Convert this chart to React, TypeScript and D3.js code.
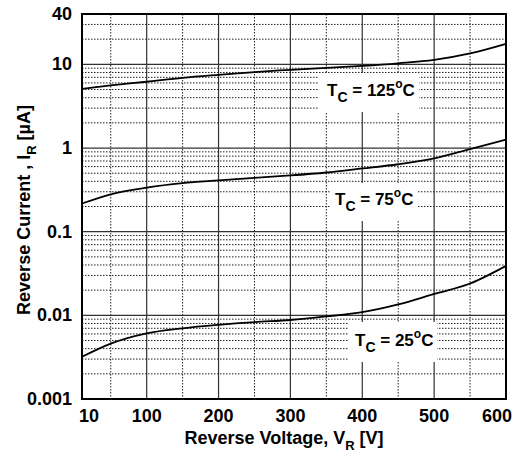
import React from "react";
import * as d3 from "d3";

const xTicks = [10, 100, 200, 300, 400, 500, 600];
const xMajorGrid = [100, 200, 300, 400, 500];
const xMinorGrid = [50, 150, 250, 350, 450, 550];
const yTicks = [0.001, 0.01, 0.1, 1, 10, 40];
const yTickLabels = ["0.001", "0.01", "0.1", "1", "10", "40"];
const yMajorGrid = [0.01, 0.1, 1, 10];

const voltage = [10, 50, 100, 150, 200, 250, 300, 350, 400, 450, 500, 550, 600];
const i125 = [5.1, 5.6, 6.2, 6.9, 7.5, 8.1, 8.6, 9.1, 9.6, 10.3, 11.3, 13.5, 17.6];
const i75 = [0.217, 0.28, 0.336, 0.38, 0.41, 0.44, 0.47, 0.51, 0.57, 0.64, 0.75, 0.97, 1.26];
const i25 = [0.0032, 0.0046, 0.0061, 0.007, 0.0077, 0.0083, 0.0088, 0.0097, 0.0109, 0.0135, 0.018, 0.024, 0.039];

const labels = [
  { temp: "125", x: 327, y: 96, box: [318, 73, 101, 39] },
  { temp: "75", x: 335, y: 205, box: [330, 183, 87, 38] },
  { temp: "25", x: 355, y: 346, box: [348, 322, 89, 40] },
];

const W = 528;
const H = 457;
const L = 82, R = 506, T = 14, B = 399;
const FONT = "'Liberation Sans', Arial, Helvetica, sans-serif";

export default function App() {
  const x = d3.scaleLinear().domain([10, 600]).range([L, R]);
  const y = d3.scaleLog().domain([0.001, 40]).range([B, T]);

  const yMinorGrid: number[] = [];
  for (let e = -3; e <= 1; e++) {
    for (let k = 2; k <= 9; k++) {
      const v = k * Math.pow(10, e);
      if (v < 40) yMinorGrid.push(v);
    }
  }

  const line = d3
    .line<[number, number]>()
    .x((d) => x(d[0]))
    .y((d) => y(d[1]))
    .curve(d3.curveMonotoneX);

  const series = [i125, i75, i25];

  return (
    <svg width={W} height={H} style={{ position: "absolute", left: 0, top: 0 }} fontFamily={FONT}>
      <rect x={0} y={0} width={W} height={H} fill="#fff" />
      {xMinorGrid.map((v) => (
        <line key={"xm" + v} x1={x(v)} x2={x(v)} y1={T} y2={B} stroke="#222" strokeWidth={1} strokeDasharray="1.5,1.5" />
      ))}
      {yMinorGrid.map((v) => (
        <line key={"ym" + v} x1={L} x2={R} y1={y(v)} y2={y(v)} stroke="#222" strokeWidth={1} strokeDasharray="1.5,1.5" />
      ))}
      {xMajorGrid.map((v) => (
        <line key={"xM" + v} x1={x(v)} x2={x(v)} y1={T} y2={B} stroke="#333" strokeWidth={1.2} />
      ))}
      {yMajorGrid.map((v) => (
        <line key={"yM" + v} x1={L} x2={R} y1={y(v)} y2={y(v)} stroke="#333" strokeWidth={1.2} />
      ))}
      {labels.map((l) => (
        <rect key={"b" + l.temp} x={l.box[0]} y={l.box[1]} width={l.box[2]} height={l.box[3]} fill="#fff" />
      ))}
      {series.map((s, i) => (
        <path
          key={"s" + i}
          d={line(voltage.map((v, j) => [v, s[j]] as [number, number])) || ""}
          fill="none"
          stroke="#000"
          strokeWidth={1.8}
        />
      ))}
      <rect x={L} y={T} width={R - L} height={B - T} fill="none" stroke="#000" strokeWidth={2} />
      {labels.map((l) => (
        <text key={"t" + l.temp} x={l.x} y={l.y} fontSize={17} fontWeight="bold" fill="#000">
          T<tspan fontSize={14} dy={6}>C</tspan>
          <tspan dy={-6}> = {l.temp}</tspan>
          <tspan fontSize={12} dy={-8}>o</tspan>
          <tspan dy={8}>C</tspan>
        </text>
      ))}
      {yTicks.map((v, i) => (
        <text key={"yt" + v} x={L - 10} y={y(v) + 6} fontSize={18} fontWeight="bold" textAnchor="end">
          {yTickLabels[i]}
        </text>
      ))}
      {xTicks.map((v) => (
        <text
          key={"xt" + v}
          x={v === 10 ? x(v) + 7 : v === 600 ? x(v) - 9 : x(v)}
          y={422}
          fontSize={18}
          fontWeight="bold"
          textAnchor="middle"
        >
          {v}
        </text>
      ))}
      <text x={284} y={444} fontSize={18} fontWeight="bold" textAnchor="middle">
        Reverse Voltage, V<tspan fontSize={13} dy={6}>R</tspan>
        <tspan dy={-6}> [V]</tspan>
      </text>
      <text transform={`translate(30,210) rotate(-90)`} fontSize={18} fontWeight="bold" textAnchor="middle">
        Reverse Current , I<tspan fontSize={13} dy={6}>R</tspan>
        <tspan dy={-6}> [µA]</tspan>
      </text>
    </svg>
  );
}
